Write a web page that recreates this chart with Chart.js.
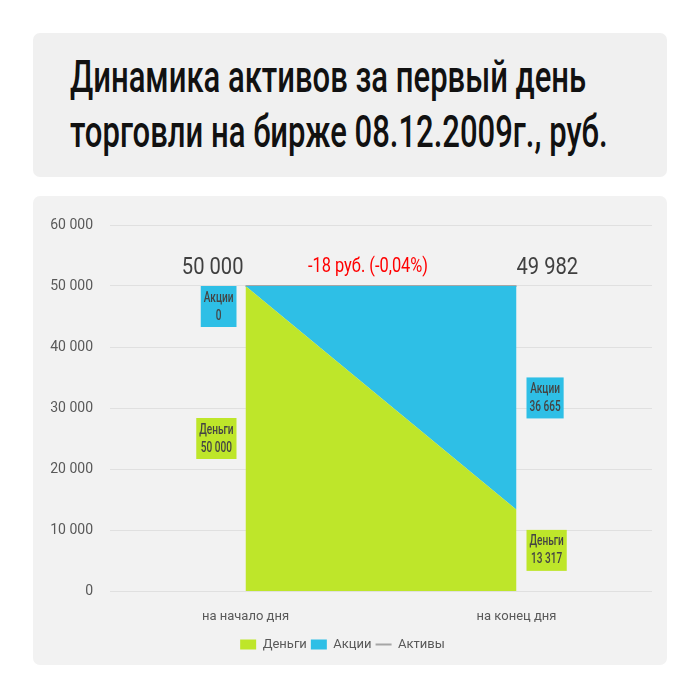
<!DOCTYPE html>
<html>
<head>
    <title>Динамика активов</title>
    <script src="https://cdn.jsdelivr.net/npm/chart.js"></script>
    <style>
        body { margin: 0; background: #ffffff; font-family: Roboto, sans-serif; }
        #titleBox {
            position: absolute; left: 33px; top: 33px; width: 634px; height: 144px;
            background: #f0f0f0; border-radius: 7px; overflow: hidden;
        }
        #titleBox h1 {
            margin: 0; position: absolute; left: 37px; top: 17px; white-space: nowrap;
            font-size: 44px; line-height: 55px; font-weight: 500; color: #111;
            transform: scaleX(0.705); transform-origin: left top;
        }
        #chartBox {
            position: absolute; left: 33px; top: 196px; width: 634px; height: 469px;
            background: #f2f2f2; border-radius: 7px;
        }
    </style>
</head>
<body>
    <div id="titleBox"><h1>Динамика активов за первый день<br>торговли на бирже 08.12.2009г., руб.</h1></div>
    <div id="chartBox"><canvas id="assetsChart" width="634" height="469"></canvas></div>

    <script>
        // data
        const categories = ["на начало дня", "на конец дня"];
        const money = [50000, 13317];
        const shares = [0, 36665];
        const assets = [50000, 49982];
        const yTicks = [0, 10000, 20000, 30000, 40000, 50000, 60000];

        const FONT = "Roboto, sans-serif";
        const GREEN = "#bee62a";
        const BLUE = "#2ebfe6";

        function fmt(v) {
            return String(Math.round(v)).replace(/\B(?=(\d{3})+(?!\d))/g, " ");
        }

        // draw text squeezed horizontally, to look like the condensed face of the original
        function narrowText(ctx, t, x, y, k) {
            ctx.fillText(t, x, y, ctx.measureText(t).width * k);
        }

        // labels next to the points: boxes with series values, totals, and the change
        const labelsPlugin = {
            id: "labels",
            afterDatasetsDraw(chart) {
                const ctx = chart.ctx;
                const xs = chart.scales.x;
                const ys = chart.scales.y;
                ctx.save();

                for (let i = 0; i < categories.length; i++) {
                    const px = xs.getPixelForValue(i);
                    const side = i === 0 ? -1 : 1;
                    const topY = ys.getPixelForValue(money[i] + shares[i]);
                    const boxes = [
                        { name: "Деньги", v: money[i], mid: money[i] / 2, color: GREEN },
                        { name: "Акции", v: shares[i], mid: money[i] + shares[i] / 2, color: BLUE }
                    ];
                    ctx.font = "500 14px " + FONT;
                    boxes.forEach(b => {
                        const t1 = b.name, t2 = fmt(b.v);
                        const w = Math.max(ctx.measureText(t1).width, ctx.measureText(t2).width) * 0.72 + 6;
                        const h = 41;
                        let y = ys.getPixelForValue(b.mid) - h / 2;
                        if (y < topY) y = topY;
                        const x = side < 0 ? px - 9 - w : px + 10;
                        ctx.fillStyle = b.color;
                        ctx.fillRect(x, y, w, h);
                        ctx.fillStyle = "#444444";
                        ctx.textAlign = "center";
                        ctx.textBaseline = "middle";
                        narrowText(ctx, t1, x + w / 2, y + 12, 0.72);
                        narrowText(ctx, t2, x + w / 2, y + 30, 0.72);
                    });

                    // total above the point
                    ctx.font = "24px " + FONT;
                    ctx.fillStyle = "#404040";
                    ctx.textAlign = side < 0 ? "right" : "left";
                    ctx.textBaseline = "alphabetic";
                    narrowText(ctx, fmt(assets[i]), px + (side < 0 ? -2 : 0), ys.getPixelForValue(assets[0]) - 12, 0.84);
                }

                // change of assets over the day
                const diff = assets[1] - assets[0];
                const pct = (diff / assets[0] * 100).toFixed(2).replace(".", ",");
                const mx = (xs.getPixelForValue(0) + xs.getPixelForValue(1)) / 2 - 13;
                ctx.font = "20px " + FONT;
                ctx.fillStyle = "#ff0000";
                ctx.textAlign = "center";
                narrowText(ctx, diff + " руб. (" + pct + "%)", mx, ys.getPixelForValue(assets[0]) - 14, 0.82);
                ctx.restore();
            }
        };

        new Chart(document.getElementById("assetsChart"), {
            type: "line",
            data: {
                labels: categories,
                datasets: [
                    {
                        label: "Деньги", data: money, stack: "area",
                        backgroundColor: GREEN, borderColor: GREEN, borderWidth: 0,
                        fill: "origin", pointRadius: 0, pointStyle: "rect"
                    },
                    {
                        label: "Акции", data: shares, stack: "area",
                        backgroundColor: BLUE, borderColor: BLUE, borderWidth: 0,
                        fill: "-1", pointRadius: 0, pointStyle: "rect"
                    },
                    {
                        label: "Активы", data: assets, stack: "line",
                        borderColor: "#a6a6a6", backgroundColor: "#a6a6a6", borderWidth: 2,
                        fill: false, pointRadius: 0, pointStyle: "line"
                    }
                ]
            },
            options: {
                responsive: false,
                animation: false,
                layout: { padding: { left: 0, right: 15, top: 29, bottom: 4 } },
                scales: {
                    x: {
                        offset: true,
                        grid: { display: false, drawTicks: false },
                        border: { display: false },
                        ticks: { color: "#595959", font: { family: FONT, size: 13 }, padding: 18 },
                        afterFit(scale) { scale.height = 43; }
                    },
                    y: {
                        stacked: true,
                        min: 0, max: 60000,
                        afterBuildTicks(scale) { scale.ticks = yTicks.map(v => ({ value: v })); },
                        grid: { color: "#e0e0e0", drawTicks: false },
                        border: { display: false },
                        ticks: {
                            color: "#595959", font: { family: FONT, size: 14 }, padding: 17,
                            callback: v => fmt(v)
                        },
                        afterFit(scale) { scale.width = 77; }
                    }
                },
                plugins: {
                    legend: {
                        position: "bottom",
                        labels: {
                            usePointStyle: true, pointStyleWidth: 16, boxHeight: 10,
                            color: "#595959", font: { family: FONT, size: 13 }, padding: 4
                        }
                    },
                    tooltip: { enabled: false }
                }
            },
            plugins: [labelsPlugin]
        });
    </script>
</body>
</html>
